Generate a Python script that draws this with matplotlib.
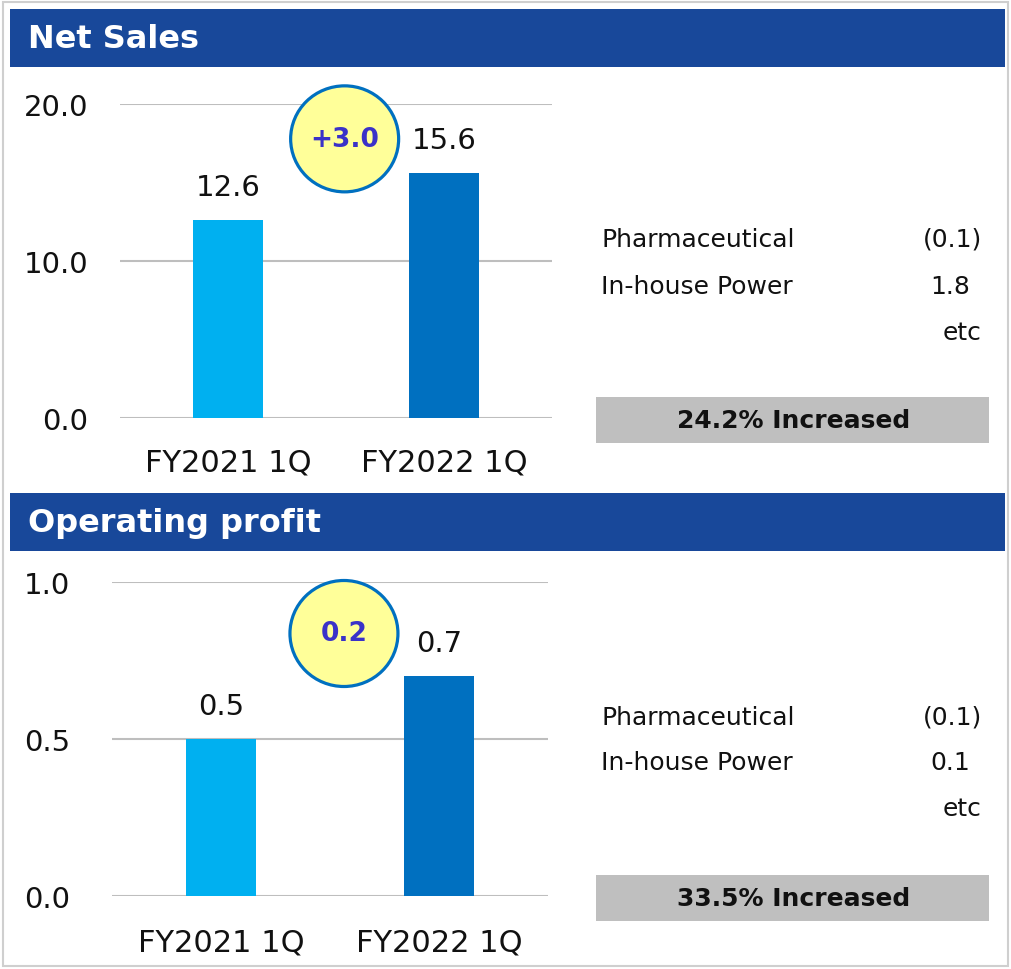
import matplotlib
matplotlib.use("Agg")
import matplotlib.pyplot as plt
from matplotlib.patches import Rectangle, Ellipse

periods = ['FY2021 1Q', 'FY2022 1Q']
net_sales = [12.6, 15.6]
op_profit = [0.5, 0.7]
net_sales_delta = '+3.0'
op_profit_delta = '0.2'
segments = ['Pharmaceutical', 'In-house Power']
net_sales_seg = ['(0.1)', '1.8']
op_profit_seg = ['(0.1)', '0.1']
net_sales_growth = '24.2% Increased'
op_profit_growth = '33.5% Increased'

W, H = 1011, 970
plt.rcParams['font.family'] = ['DejaVu Sans']

fig = plt.figure(figsize=(W / 100, H / 100), dpi=100)
fig.patch.set_facecolor('white')


def box(x0, y0, x1, y1):
    # pixel box (top-left origin) -> figure fraction rect
    return [x0 / W, 1 - y1 / H, (x1 - x0) / W, (y1 - y0) / H]


def fx(x):
    return x / W


def fy(y):
    return 1 - y / H


header_col = '#18489A'
bar_cols = ['#00B0F0', '#0070C0']

# outer border
fig.patches.append(Rectangle((fx(3), fy(967)), fx(1005), (964) / H, transform=fig.transFigure,
                             fill=False, edgecolor='#CFCFCF', lw=1.5))


def panel(top, title, values, delta, ylim, yticks, ax_box, ytick_pad, xtick_pad,
          circle_xy, seg_vals, seg_ys, growth):
    # header band
    fig.patches.append(Rectangle((fx(10), fy(top + 58)), fx(995), 58 / H,
                                 transform=fig.transFigure, color=header_col, lw=0))
    fig.text(fx(28), fy(top + 30), title, color='white', fontsize=23, fontweight='bold',
             va='center', ha='left')

    ax = fig.add_axes(box(*ax_box))
    x = range(len(values))
    bars = ax.bar(x, values, width=0.32, color=bar_cols, zorder=3)
    ax.bar_label(bars, labels=[f'{v:.1f}' for v in values], padding=14, fontsize=21,
                 color='#111111')
    ax.set_xlim(-0.5, 1.5)
    ax.set_ylim(*ylim)
    ax.set_yticks(yticks)
    ax.set_yticklabels([f'{t:.1f}' for t in yticks])
    ax.set_xticks(list(x))
    ax.set_xticklabels(periods)
    ax.tick_params(axis='y', length=0, pad=ytick_pad, labelsize=21, labelcolor='#111111')
    ax.tick_params(axis='x', length=0, pad=xtick_pad, labelsize=22, labelcolor='#111111')
    ax.grid(axis='y', color='#BEBEBE', lw=1.5, zorder=0)
    for s in ax.spines.values():
        s.set_visible(False)

    # delta bubble
    cx, cy = circle_xy
    ax.add_patch(Ellipse((cx, cy), 108 / (ax_box[2] - ax_box[0]), 106 / (ax_box[3] - ax_box[1]),
                         transform=ax.transAxes, facecolor='#FFFF99', edgecolor='#0070C0',
                         lw=2.3, clip_on=False, zorder=5))
    ax.text(cx, cy, delta, transform=ax.transAxes, ha='center', va='center', fontsize=19,
            fontweight='bold', color='#3A32C8', zorder=6)

    # segment breakdown
    for name, val, yy, xr in zip(segments, seg_vals, seg_ys, [982, 970]):
        fig.text(fx(601), fy(yy), name, fontsize=18, va='center', ha='left', color='#111111')
        fig.text(fx(xr), fy(yy), val, fontsize=18, va='center', ha='right', color='#111111')
    fig.text(fx(982), fy(seg_ys[1] + 46), 'etc', fontsize=18, va='center', ha='right',
             color='#111111')

    # growth box
    gy = seg_ys[0] + 158
    fig.patches.append(Rectangle((fx(596), fy(gy + 46)), fx(393), 46 / H,
                                 transform=fig.transFigure, color='#BFBFBF', lw=0))
    fig.text(fx(794), fy(gy + 23), growth, fontsize=18, fontweight='bold', ha='center',
             va='center', color='#111111')
    return ax


panel(10, 'Net Sales', net_sales, net_sales_delta, (0, 20), [0, 10, 20],
      (120, 105, 552, 419), 23, 21, (0.52, 0.889), net_sales_seg, [240, 287],
      net_sales_growth)

panel(494, 'Operating profit', op_profit, op_profit_delta, (0, 1), [0, 0.5, 1.0],
      (112, 583, 548, 897), 30, 22.5, (0.532, 0.836), op_profit_seg, [718, 763],
      op_profit_growth)

fig.savefig('out.png', dpi=100, facecolor='white')
